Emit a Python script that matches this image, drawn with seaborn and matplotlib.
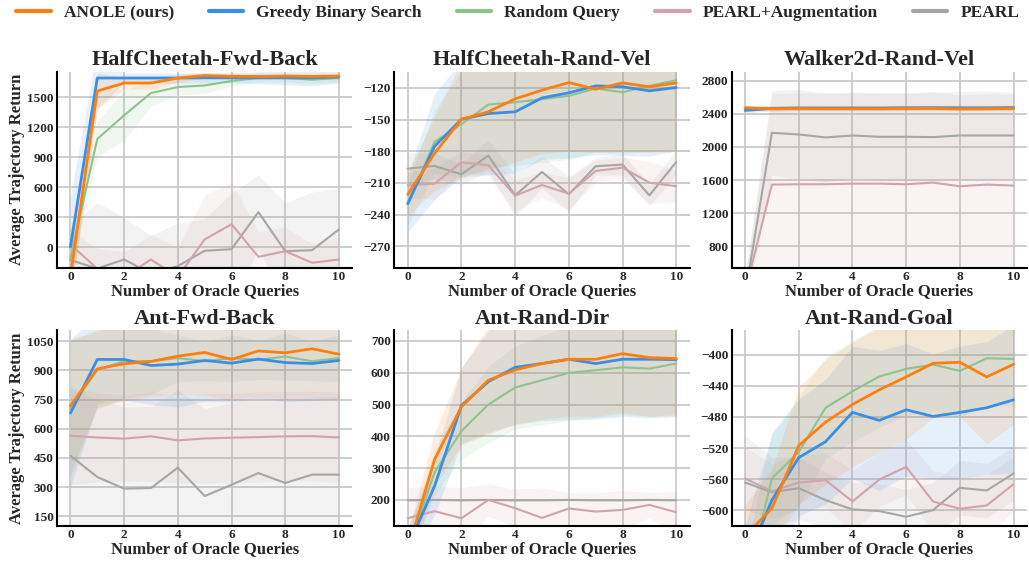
import numpy as np
import pandas as pd
import matplotlib
matplotlib.use("Agg")
import matplotlib.pyplot as plt
from matplotlib.lines import Line2D
import seaborn as sns

# ---------------- data ----------------
queries = list(range(11))
methods = ["ANOLE (ours)", "Greedy Binary Search", "Random Query", "PEARL+Augmentation", "PEARL"]
colors = ["#ff7f0e", "#3a8ee6", "#8dc38d", "#d1a3ab", "#a6a6a6"]
titles = ["HalfCheetah-Fwd-Back", "HalfCheetah-Rand-Vel", "Walker2d-Rand-Vel",
          "Ant-Fwd-Back", "Ant-Rand-Dir", "Ant-Rand-Goal"]

# HalfCheetah-Fwd-Back
hcfb_anole = [-290, 1560, 1640, 1640, 1690, 1715, 1706, 1706, 1709, 1706, 1709]
hcfb_greedy = [5, 1690, 1690, 1690, 1690, 1692, 1692, 1692, 1692, 1692, 1700]
hcfb_random = [-110, 1082, 1318, 1540, 1600, 1616, 1660, 1690, 1690, 1673, 1690]
hcfb_aug = [30, -212, -294, -120, -295, 80, 232, -93, -37, -153, -120]
hcfb_pearl = [-126, -210, -120, -260, -186, -33, -17, 352, -37, -27, 180]
hcfb_anole_sd = [250, 180, 60, 60, 40, 30, 30, 30, 30, 30, 30]
hcfb_greedy_sd = [500, 300, 50, 50, 50, 50, 50, 60, 70, 80, 60]
hcfb_random_sd = [150, 175, 250, 130, 80, 80, 50, 40, 40, 40, 40]
hcfb_aug_sd = [150, 200, 250, 250, 300, 440, 420, 250, 240, 190, 226]
hcfb_pearl_sd = [330, 660, 420, 380, 430, 320, 560, 370, 480, 580, 410]

# HalfCheetah-Rand-Vel
hcrv_anole = [-221, -182, -149.7, -142.7, -130.4, -122.2, -115, -121.3, -115.3, -119, -115.3]
hcrv_greedy = [-229.6, -175.3, -149.7, -144.3, -142.7, -129.5, -124.7, -118.1, -119, -122.8, -119.7]
hcrv_random = [-230.5, -171, -154.4, -135.8, -133.6, -130.7, -127.6, -120.6, -124.1, -118.1, -112.7]
hcrv_aug = [-212.2, -210.6, -190.4, -193.3, -222, -211.9, -220.1, -198.6, -195.5, -209.7, -213.1]
hcrv_pearl = [-196.4, -193.9, -201.8, -184.1, -221.7, -199.6, -220.7, -194.2, -192.6, -221.7, -190.1]
hcrv_anole_sd = [20, 35, 55, 55, 60, 60, 65, 60, 65, 62, 65]
hcrv_greedy_sd = [27, 50, 55, 58, 58, 58, 62, 65, 65, 62, 60]
hcrv_random_sd = [20, 30, 50, 60, 60, 60, 60, 60, 58, 62, 65]
hcrv_aug_sd = [12, 15, 10, 10, 15, 12, 15, 10, 10, 20, 15]
hcrv_pearl_sd = [15, 12, 10, 15, 20, 15, 17, 8, 10, 10, 12]

# Walker2d-Rand-Vel
w2rv_anole = [2473, 2461, 2465, 2462, 2462, 2462, 2465, 2466, 2460, 2462, 2465]
w2rv_greedy = [2441, 2465, 2470, 2470, 2470, 2470, 2472, 2472, 2472, 2472, 2475]
w2rv_random = [2473, 2470, 2472, 2470, 2472, 2470, 2475, 2478, 2470, 2470, 2468]
w2rv_aug = [250, 1546, 1550, 1550, 1558, 1558, 1550, 1570, 1526, 1546, 1534]
w2rv_pearl = [210, 2171, 2151, 2115, 2139, 2123, 2123, 2119, 2139, 2139, 2139]
w2rv_anole_sd = [25, 25, 25, 25, 25, 25, 25, 25, 25, 25, 25]
w2rv_greedy_sd = [30, 30, 30, 30, 30, 30, 30, 30, 30, 30, 30]
w2rv_random_sd = [25, 25, 25, 25, 25, 25, 25, 25, 25, 25, 25]
w2rv_aug_sd = [200, 1100, 1100, 1100, 1100, 1100, 1100, 1100, 1100, 1100, 1100]
w2rv_pearl_sd = [200, 510, 540, 540, 520, 530, 530, 540, 530, 540, 520]

# Ant-Fwd-Back
afb_anole = [718, 908, 934, 946, 973, 992, 956, 1000, 990, 1011, 983]
afb_greedy = [680, 956, 956, 925, 932, 951, 937, 958, 940, 935, 951]
afb_random = [703, 903, 947, 947, 963, 947, 963, 954, 971, 947, 963]
afb_aug = [564, 555, 549, 561, 540, 550, 554, 557, 561, 562, 555]
afb_pearl = [461, 352, 292, 295, 400, 254, 312, 372, 321, 364, 364]
afb_anole_sd = [340, 200, 190, 180, 200, 220, 210, 230, 240, 250, 230]
afb_greedy_sd = [380, 230, 210, 200, 220, 210, 200, 200, 200, 190, 200]
afb_random_sd = [350, 200, 190, 170, 120, 100, 120, 100, 120, 100, 120]
afb_aug_sd = [250, 230, 220, 230, 220, 230, 230, 230, 230, 230, 230]
afb_pearl_sd = [350, 400, 420, 420, 400, 450, 420, 400, 420, 400, 400]

# Ant-Rand-Dir
ard_anole = [40, 327.6, 492.9, 576.6, 609, 628.9, 642.5, 642.5, 660, 647.7, 644.6]
ard_greedy = [50, 244, 497, 572, 617, 629, 642.5, 629, 642.5, 642.5, 641.4]
ard_random = [42, 286.8, 416.5, 500, 553.6, 576.6, 599.6, 608, 617, 613, 629]
ard_aug = [142.5, 164.5, 142.5, 200, 174, 143.5, 173, 163.4, 168.6, 184.3, 161.3]
ard_pearl = [199, 200, 199, 200, 199, 199, 200, 199, 199, 200, 199]
ard_anole_sd = [60, 85, 120, 170, 170, 175, 180, 180, 185, 185, 180]
ard_greedy_sd = [60, 90, 120, 160, 180, 180, 190, 175, 180, 185, 180]
ard_random_sd = [50, 70, 90, 120, 130, 140, 150, 150, 150, 150, 160]
ard_aug_sd = [95, 80, 95, 50, 60, 95, 50, 60, 60, 40, 65]
ard_pearl_sd = [2, 2, 2, 2, 2, 2, 2, 2, 2, 2, 2]

# Ant-Rand-Goal
arg_anole = [-633, -597.4, -516.8, -486.6, -464, -445.2, -428.6, -411.1, -409.8, -428.6, -412.4]
arg_greedy = [-670, -586.8, -532.2, -511.7, -474.2, -484.4, -470.8, -479.3, -474.2, -468.2, -458]
arg_random = [-701, -559, -525, -468.2, -447, -428.1, -418.3, -412.8, -420.9, -404.7, -405.5]
arg_aug = [-559, -575.3, -564.2, -561.2, -588.5, -560.4, -544.1, -588.5, -597.9, -593.6, -566.3]
arg_pearl = [-564.2, -576.5, -571.4, -586.8, -598.7, -600.9, -608.1, -599.6, -571, -574.4, -552.6]
arg_anole_sd = [40, 50, 75, 80, 80, 80, 80, 70, 70, 86, 77]
arg_greedy_sd = [50, 85, 75, 80, 85, 90, 85, 80, 85, 85, 95]
arg_random_sd = [40, 60, 70, 65, 65, 65, 60, 60, 60, 60, 60]
arg_aug_sd = [40, 35, 35, 35, 40, 35, 35, 40, 40, 40, 35]
arg_pearl_sd = [60, 45, 40, 35, 35, 35, 35, 35, 35, 35, 35]

panel_means = [
    [hcfb_anole, hcfb_greedy, hcfb_random, hcfb_aug, hcfb_pearl],
    [hcrv_anole, hcrv_greedy, hcrv_random, hcrv_aug, hcrv_pearl],
    [w2rv_anole, w2rv_greedy, w2rv_random, w2rv_aug, w2rv_pearl],
    [afb_anole, afb_greedy, afb_random, afb_aug, afb_pearl],
    [ard_anole, ard_greedy, ard_random, ard_aug, ard_pearl],
    [arg_anole, arg_greedy, arg_random, arg_aug, arg_pearl],
]
panel_sds = [
    [hcfb_anole_sd, hcfb_greedy_sd, hcfb_random_sd, hcfb_aug_sd, hcfb_pearl_sd],
    [hcrv_anole_sd, hcrv_greedy_sd, hcrv_random_sd, hcrv_aug_sd, hcrv_pearl_sd],
    [w2rv_anole_sd, w2rv_greedy_sd, w2rv_random_sd, w2rv_aug_sd, w2rv_pearl_sd],
    [afb_anole_sd, afb_greedy_sd, afb_random_sd, afb_aug_sd, afb_pearl_sd],
    [ard_anole_sd, ard_greedy_sd, ard_random_sd, ard_aug_sd, ard_pearl_sd],
    [arg_anole_sd, arg_greedy_sd, arg_random_sd, arg_aug_sd, arg_pearl_sd],
]
y_limits = [(-200, 1750), (-290, -105), (545, 2905), (100, 1105), (118, 733), (-620, -369)]
y_ticks = [
    [0, 300, 600, 900, 1200, 1500],
    [-270, -240, -210, -180, -150, -120],
    [800, 1200, 1600, 2000, 2400, 2800],
    [150, 300, 450, 600, 750, 900, 1050],
    [200, 300, 400, 500, 600, 700],
    [-600, -560, -520, -480, -440, -400],
]
x_ticks = [0, 2, 4, 6, 8, 10]

# ---------------- style ----------------
sns.set_theme(style="whitegrid")
plt.rcParams["font.family"] = ["Liberation Serif", "DejaVu Serif"]
plt.rcParams["font.weight"] = "bold"
plt.rcParams["axes.labelweight"] = "bold"
plt.rcParams["axes.titleweight"] = "bold"

line_widths = [2.0, 2.0, 1.5, 1.5, 1.5]
text_color = "#262626"

fig, axes = plt.subplots(2, 3, figsize=(10.29, 5.63), dpi=100)
fig.subplots_adjust(left=57 / 1029, right=1027 / 1029, top=1 - 72 / 563, bottom=1 - 526 / 563,
                    wspace=0.142, hspace=0.322)

draw_order = [4, 3, 2, 1, 0]
for p, ax in enumerate(axes.flat):
    for k in draw_order:
        mean = np.array(panel_means[p][k], dtype=float)
        sd = np.array(panel_sds[p][k], dtype=float)
        df = pd.DataFrame({"q": queries, "ret": mean})
        ax.fill_between(queries, mean - sd, mean + sd, color=colors[k], alpha=0.13, linewidth=0)
        sns.lineplot(data=df, x="q", y="ret", ax=ax, color=colors[k], linewidth=line_widths[k],
                     legend=False, errorbar=None)
    ax.set_ylim(*y_limits[p])
    ax.set_xlim(-0.5, 10.5)
    ax.set_yticks(y_ticks[p])
    ax.set_xticks(x_ticks)
    ax.set_title(titles[p], fontsize=16, fontweight="bold", color=text_color, pad=5)
    ax.set_xlabel("Number of Oracle Queries", fontsize=12, fontweight="bold", color=text_color, labelpad=0)
    if p % 3 == 0:
        ax.set_ylabel("Average Trajectory Return", fontsize=12, fontweight="bold", color=text_color, labelpad=1.5)
    else:
        ax.set_ylabel("")
    ax.tick_params(axis="both", labelsize=9.5, colors=text_color, length=0, pad=2.5)
    for lab in ax.get_xticklabels() + ax.get_yticklabels():
        lab.set_fontweight("bold")
    ax.grid(True, color="#c6c6c6", linewidth=1.2)
    sns.despine(ax=ax)
    for s in ["left", "bottom"]:
        ax.spines[s].set_color("black")
        ax.spines[s].set_linewidth(1.5)

handles = [Line2D([0], [0], color=colors[k], linewidth=3) for k in range(5)]
fig.legend(handles, methods, loc="center", bbox_to_anchor=(0.503, 1 - 13 / 563), ncol=5,
           frameon=False, prop={"family": ["Liberation Serif"], "weight": "bold", "size": 12.5},
           handlelength=2.0, handletextpad=0.75, columnspacing=2.0, labelcolor=text_color)

fig.savefig("out.png", dpi=100)
